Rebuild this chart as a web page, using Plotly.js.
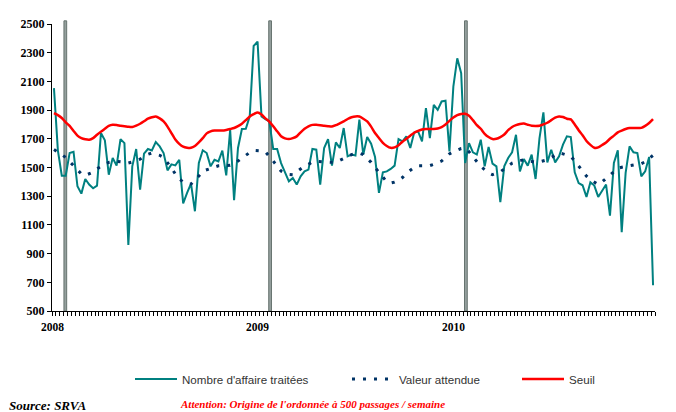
<!DOCTYPE html>
<html>
<head>
<meta charset="utf-8">
<script src="https://cdn.plot.ly/plotly-3.0.1.min.js"></script>
<style>html,body{margin:0;padding:0;background:#fff;}#chart{width:676px;height:412px;}</style>
</head>
<body>
<div id="chart"></div>
<script>
// Weekly values, 2008 week 1 to end of 2010 (index = week number)
const affaires = [2053,1620,1443,1443,1601,1610,1369,1318,1420,1381,1355,1374,1740,1689,1450,1566,1513,1698,1670,960,
1508,1629,1346,1597,1629,1619,1677,1647,1601,1480,1522,1515,1554,1250,1323,1388,1195,1531,1620,1601,
1508,1554,1543,1617,1445,1763,1272,1636,1768,1770,1856,2347,2377,1856,1837,1821,1629,1629,1531,1473,
1404,1427,1381,1439,1473,1485,1629,1624,1381,1636,1698,1513,1675,1636,1775,1578,1590,1583,1833,1590,
1712,1666,1573,1323,1466,1473,1490,1513,1698,1682,1717,1636,1744,1751,1682,1914,1705,1937,1902,1960,
1965,1612,2064,2261,2157,1531,1670,1606,1590,1694,1508,1643,1527,1508,1258,1508,1566,1606,1728,1473,
1559,1513,1590,1420,1705,1884,1536,1624,1536,1578,1659,1717,1712,1466,1392,1376,1295,1397,1374,1295,
1341,1381,1165,1531,1619,1050,1462,1647,1606,1601,1439,1473,1573,680];

const attendue = [1625,1610,1590,1570,1540,1510,1480,1455,1445,1455,1468,1490,1510,1527,1535,1540,1543,1540,1535,1531,
1538,1548,1558,1575,1592,1601,1595,1585,1570,1535,1497,1455,1420,1400,1385,1385,1410,1440,1475,1485,
1495,1505,1512,1514,1515,1515,1525,1545,1566,1585,1605,1619,1618,1615,1610,1580,1545,1510,1475,1460,
1452,1450,1470,1495,1510,1522,1538,1543,1540,1537,1536,1536,1536,1550,1565,1578,1590,1598,1601,1590,
1565,1536,1500,1466,1430,1400,1392,1398,1410,1430,1460,1480,1500,1513,1513,1513,1513,1522,1533,1545,
1570,1595,1610,1622,1632,1636,1610,1575,1540,1508,1485,1462,1450,1458,1470,1490,1512,1530,1540,1548,
1554,1548,1540,1536,1540,1548,1554,1570,1588,1601,1595,1587,1578,1545,1508,1470,1440,1415,1395,1381,
1400,1425,1450,1475,1495,1502,1508,1513,1517,1522,1527,1540,1565,1585];

const seuil = [1879,1865,1845,1815,1790,1755,1722,1705,1697,1694,1705,1728,1750,1770,1790,1798,1796,1791,1788,1784,
1782,1792,1805,1822,1840,1850,1856,1842,1821,1785,1740,1695,1665,1645,1638,1637,1650,1675,1705,1738,
1752,1758,1758,1758,1762,1768,1775,1788,1805,1830,1856,1872,1884,1870,1842,1820,1788,1752,1718,1703,
1698,1705,1717,1745,1770,1787,1797,1798,1795,1791,1788,1786,1795,1808,1821,1838,1850,1856,1855,1840,
1821,1785,1740,1705,1672,1650,1637,1640,1655,1680,1700,1722,1742,1755,1765,1768,1768,1768,1772,1782,
1800,1825,1848,1865,1873,1874,1860,1830,1795,1770,1735,1712,1698,1700,1712,1730,1760,1782,1795,1803,
1806,1798,1791,1790,1791,1800,1812,1830,1848,1856,1852,1840,1835,1800,1760,1725,1685,1658,1638,1640,
1657,1675,1700,1722,1745,1757,1768,1775,1776,1776,1776,1790,1810,1837];

const yearLabels = ["2008","2009","2010"];
const yearMarks = [2.9, 55.2, 105.2];   // week index of the vertical year markers
const seriesNames = ["Nombre d'affaire traitées","Valeur attendue","Seuil"];

const weeks = affaires.map((_, i) => i);

const traces = [
  {x: weeks, y: affaires, type: 'scatter', mode: 'lines', name: seriesNames[0],
   line: {color: '#008080', width: 2}, legend: 'legend'},
  {x: weeks, y: attendue, type: 'scatter', mode: 'lines', name: seriesNames[1],
   line: {color: '#003366', width: 3, dash: '3px,8px'}, legend: 'legend2'},
  {x: weeks, y: seuil, type: 'scatter', mode: 'lines', name: seriesNames[2],
   line: {color: '#ff0000', width: 2.5, shape: 'spline', smoothing: 0.6}, legend: 'legend3'}
];

const shapes = yearMarks.map(m => ({
  type: 'rect', xref: 'x', yref: 'paper', x0: m - 0.35, x1: m + 0.35, y0: 0, y1: 1.011,
  fillcolor: '#95a09e', line: {color: '#66736f', width: 1}, layer: 'below'
}));

const annotations = yearLabels.map((t, k) => ({
  text: '<b>' + t + '</b>', xref: 'x', yref: 'paper', x: yearMarks[k] + 0.3, y: 0,
  xanchor: 'right', yanchor: 'top', yshift: -8, showarrow: false,
  font: {family: 'Liberation Serif', size: 11.5, color: '#000'}
}));
annotations.push({
  text: '<b><i>Source: SRVA</i></b>', xref: 'paper', yref: 'paper',
  x: -45/603, y: -94/287, xanchor: 'left', yanchor: 'middle', showarrow: false,
  font: {family: 'Liberation Serif', size: 13, color: '#000'}
});
annotations.push({
  text: "<b><i>Attention: Origine de l'ordonnée à 500 passages / semaine</i></b>",
  xref: 'paper', yref: 'paper', x: 126/603, y: -93/287, xanchor: 'left', yanchor: 'middle',
  showarrow: false, font: {family: 'Liberation Serif', size: 11, color: '#ff0000'}
});

const legFont = {family: 'Liberation Sans', size: 11.6, color: '#333'};
const legBase = {orientation: 'h', yanchor: 'middle', y: -68/287, xanchor: 'left',
  bgcolor: 'rgba(0,0,0,0)', font: legFont, borderwidth: 0, itemwidth: 42};

const layout = {
  width: 676, height: 412,
  margin: {l: 52, r: 21, t: 24, b: 101},
  paper_bgcolor: '#fff', plot_bgcolor: '#fff',
  showlegend: true,
  legend: Object.assign({}, legBase, {x: 78/603}),
  legend2: Object.assign({}, legBase, {x: 295/603}),
  legend3: Object.assign({}, legBase, {x: 465/603}),
  xaxis: {
    range: [-0.5, 153.5], showgrid: false, zeroline: false,
    showline: true, linecolor: '#000', linewidth: 1,
    ticks: 'outside', tick0: -0.5, dtick: 1, ticklen: 4, tickwidth: 1, tickcolor: '#000',
    showticklabels: false, fixedrange: true
  },
  yaxis: {
    range: [500, 2500], showgrid: false, zeroline: false,
    showline: true, linecolor: '#000', linewidth: 1,
    ticks: 'outside', tick0: 500, dtick: 200, ticklen: 4, tickwidth: 1, tickcolor: '#000',
    tickfont: {family: 'Liberation Serif', size: 12, color: '#000', weight: 'bold'},
    fixedrange: true
  },
  shapes: shapes,
  annotations: annotations
};

Plotly.newPlot('chart', traces, layout, {displayModeBar: false, staticPlot: true});
</script>
</body>
</html>
